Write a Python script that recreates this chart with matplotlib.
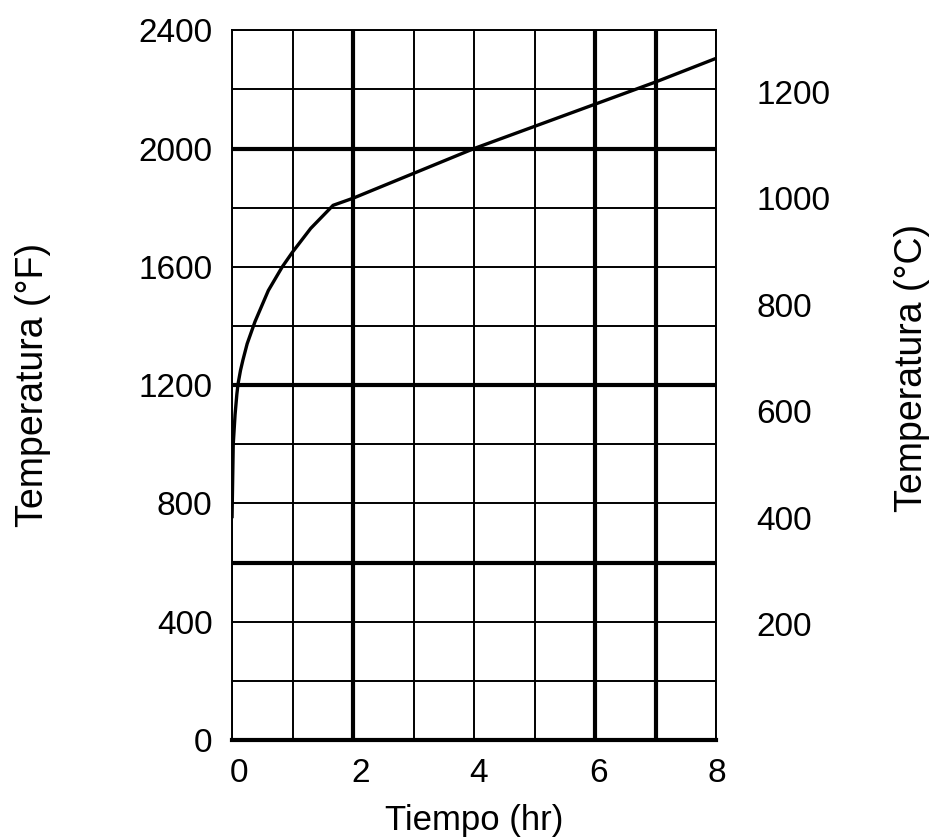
import matplotlib
matplotlib.use("Agg")
import matplotlib.pyplot as plt
import matplotlib.transforms as mtransforms
import numpy as np

plt.rcParams['font.family'] = ['Liberation Sans', 'DejaVu Sans']

# Data
time_hr = [0.0, 0.02, 0.05, 0.08, 0.1, 0.14, 0.18, 0.25, 0.38, 0.6, 0.83, 1.0, 1.3, 1.67, 2.0, 4.0, 6.0, 7.0, 8.0]
temp_F = [750, 1000, 1100, 1170, 1205, 1250, 1285, 1340, 1415, 1520, 1600, 1650, 1730, 1808, 1832, 2000, 2150, 2225, 2305]

x_major = [0, 2, 4, 6, 8]
x_minor = [1, 3, 5, 7]
y_major = [0, 400, 800, 1200, 1600, 2000, 2400]
y_minor = [200, 600, 1000, 1400, 1800, 2200]
c_ticks = [200, 400, 600, 800, 1000, 1200]
bold_x = [2, 6, 7]
bold_y = [600, 1200, 2000]

fig = plt.figure(figsize=(9.3, 8.4), dpi=100)
ax = fig.add_axes([0.2495, 0.119, 0.5205, 0.845])

ax.set_xlim(0, 8)
ax.set_ylim(0, 2400)
ax.set_xticks(x_major)
ax.set_xticks(x_minor, minor=True)
ax.set_yticks(y_major)
ax.set_yticks(y_minor, minor=True)
ax.grid(True, which='both', color='black', linewidth=1.4)
ax.set_axisbelow(True)
for v in bold_x:
    ax.axvline(v, color='black', linewidth=3.0, zorder=1.5)
for v in bold_y:
    ax.axhline(v, color='black', linewidth=3.0, zorder=1.5)

for s in ['top', 'left', 'right']:
    ax.spines[s].set_linewidth(1.4)
ax.spines['bottom'].set_linewidth(3.0)

ax.plot(time_hr, temp_F, color='black', linewidth=2.4, zorder=3,
        solid_capstyle='butt', solid_joinstyle='round')

ax.tick_params(axis='both', which='both', length=0, labelsize=24)
ax.tick_params(axis='x', pad=13)
ax.tick_params(axis='y', pad=14)
label_shift_px = [7, 8, 4, 3, 1]
for lbl, dx in zip(ax.get_xticklabels(), label_shift_px):
    off = mtransforms.ScaledTranslation(dx / 100, 0, fig.dpi_scale_trans)
    lbl.set_transform(lbl.get_transform() + off)

ax.set_xlabel('Tiempo (hr)', fontsize=25, labelpad=11)
ax.set_ylabel('Temperatura (°F)', fontsize=27)
ax.yaxis.set_label_coords(-0.375, 0.50)

ax2 = ax.twinx()
ax2.set_ylim((0 - 32) * 5 / 9, (2400 - 32) * 5 / 9)
ax2.set_yticks(c_ticks)
ax2.tick_params(axis='y', length=0, labelsize=24, pad=29)
for s in ax2.spines.values():
    s.set_visible(False)
ax2.set_ylabel('Temperatura (°C)', fontsize=27)
ax2.yaxis.set_label_coords(1.368, 0.524)

fig.savefig('out.png', dpi=100)
